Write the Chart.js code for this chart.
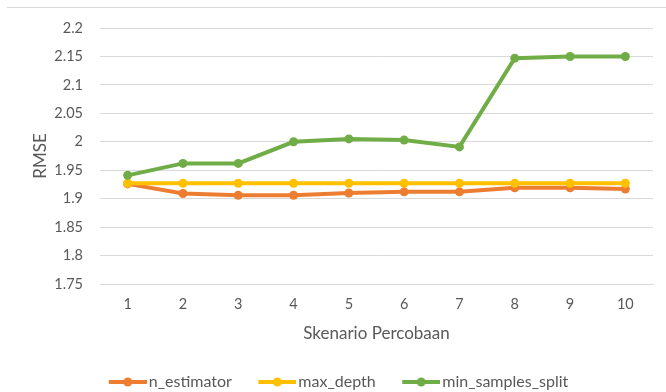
<!DOCTYPE html>
<html>
<head>
<meta charset="utf-8">
<script src="https://cdn.jsdelivr.net/npm/chart.js@4"></script>
<style>
  html, body { margin: 0; padding: 0; background: #fff; }
  #wrap { position: relative; width: 666px; height: 392px; overflow: hidden; }
  #frame { position: absolute; left: 7px; right: 0; top: 7px; border-top: 1px solid #d9d9d9; }
  canvas { position: absolute; left: 0; top: 0; }
</style>
</head>
<body>
<div id="wrap">
  <div id="frame"></div>
  <canvas id="c" width="666" height="392"></canvas>
</div>
<script>
// Skenario (scenario) numbers on the x axis
const scenarios = ['1', '2', '3', '4', '5', '6', '7', '8', '9', '10'];

// RMSE per scenario for each tuned hyper-parameter
const nEstimator = [1.926, 1.909, 1.906, 1.906, 1.910, 1.912, 1.912, 1.919, 1.919, 1.917];
const maxDepth = [1.927, 1.927, 1.927, 1.927, 1.927, 1.927, 1.927, 1.927, 1.927, 1.927];
const minSamplesSplit = [1.941, 1.962, 1.962, 2.000, 2.005, 2.003, 1.991, 2.147, 2.150, 2.150];

const seriesNames = ['n_estimator', 'max_depth', 'min_samples_split'];
const seriesColors = ['#ED7D31', '#FFC000', '#70AD47'];

const yTicks = [1.75, 1.8, 1.85, 1.9, 1.95, 2, 2.05, 2.1, 2.15, 2.2];

const textColor = '#595959';
const gridColor = '#d9d9d9';
const fontFamily = 'Lato, "Liberation Sans", sans-serif';

// Legend marker: short line with a dot in the middle
function legendIcon(color) {
  const cv = document.createElement('canvas');
  cv.width = 44; cv.height = 12;
  const g = cv.getContext('2d');
  g.strokeStyle = color;
  g.lineWidth = 4;
  g.beginPath();
  g.moveTo(6, 6); g.lineTo(44, 6);
  g.stroke();
  g.fillStyle = color;
  g.beginPath();
  g.arc(25, 6, 4.5, 0, Math.PI * 2);
  g.fill();
  return cv;
}
const icons = seriesColors.map(legendIcon);

const seriesData = [nEstimator, maxDepth, minSamplesSplit];
const datasets = seriesData.map((vals, i) => ({
  label: seriesNames[i],
  data: vals,
  borderColor: seriesColors[i],
  backgroundColor: seriesColors[i],
  borderWidth: 4,
  pointRadius: 4.5,
  pointHoverRadius: 4.5,
  pointBorderWidth: 0,
  tension: 0,
  order: 3 - i
}));

// Nudge the legend row into place after layout
const legendShift = {
  id: 'legendShift',
  afterLayout(chart) {
    const lg = chart.legend;
    if (!lg) return;
    lg.left += 12; lg.right += 12;
    lg.top += 3.5; lg.bottom += 3.5;
  }
};

new Chart(document.getElementById('c'), {
  type: 'line',
  data: { labels: scenarios, datasets },
  plugins: [legendShift],
  options: {
    responsive: false,
    animation: false,
    devicePixelRatio: 1,
    layout: { padding: { left: 0, right: 13, top: 28, bottom: -4.5 } },
    plugins: {
      tooltip: { enabled: false },
      legend: {
        position: 'bottom',
        labels: {
          usePointStyle: true,
          pointStyleWidth: 32,
          padding: 26.5,
          color: textColor,
          font: { family: fontFamily, size: 16 },
          generateLabels(chart) {
            return chart.data.datasets.map((ds, i) => ({
              text: ds.label,
              fillStyle: ds.borderColor,
              strokeStyle: ds.borderColor,
              lineWidth: 0,
              pointStyle: icons[i],
              fontColor: textColor,
              hidden: false,
              datasetIndex: i
            }));
          }
        }
      }
    },
    scales: {
      x: {
        offset: true,
        grid: { display: false, drawTicks: false },
        border: { display: true, color: gridColor, width: 1 },
        ticks: { color: textColor, font: { family: fontFamily, size: 14.5 }, padding: 12, maxRotation: 0 },
        title: {
          display: true,
          text: 'Skenario Percobaan',
          color: textColor,
          font: { family: fontFamily, size: 17 },
          padding: { top: 0, bottom: 0 }
        },
        afterFit(s) { s.height = 60; }
      },
      y: {
        min: 1.75,
        max: 2.2,
        afterBuildTicks(s) { s.ticks = yTicks.map(v => ({ value: v })); },
        grid: { color: gridColor, lineWidth: 1, drawTicks: false },
        border: { display: false },
        ticks: {
          color: textColor,
          font: { family: fontFamily, size: 14.5 },
          padding: 17,
          callback: v => String(Math.round(v * 100) / 100)
        },
        title: {
          display: true,
          text: 'RMSE',
          color: textColor,
          font: { family: fontFamily, size: 17 },
          padding: { top: 30, bottom: 0 }
        },
        afterFit(s) { s.width = 100; }
      }
    }
  }
});
</script>
</body>
</html>
